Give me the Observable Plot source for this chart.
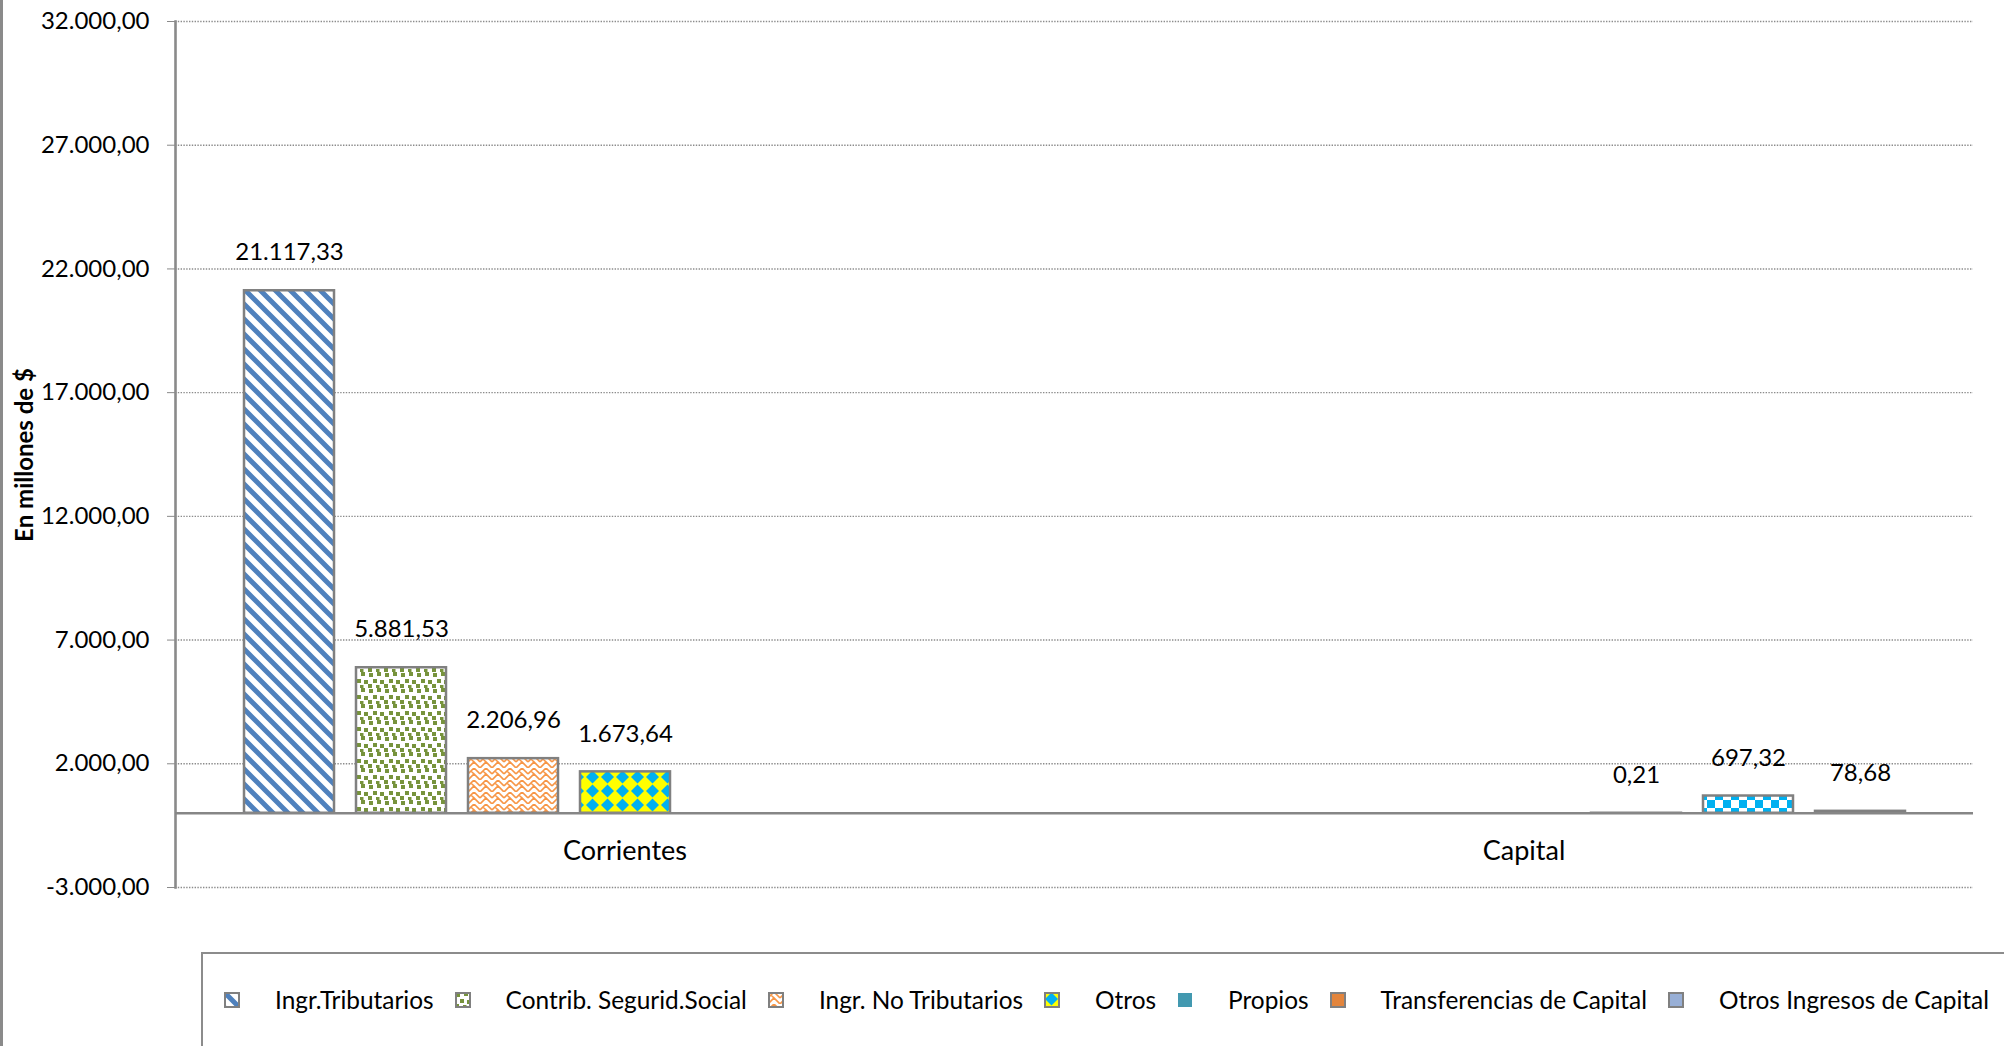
<!DOCTYPE html>
<html><head><meta charset="utf-8">
<script src="https://cdn.jsdelivr.net/npm/d3@7"></script>
<script src="https://cdn.jsdelivr.net/npm/@observablehq/plot@0.6"></script>
<style>
html,body{margin:0;padding:0;background:#fff;}
#wrap{position:relative;width:2004px;height:1046px;overflow:hidden;font-family:Lato,"Open Sans",sans-serif;color:#000;}
#chart svg text{fill:#000;}
#leftborder{position:absolute;left:0;top:0;width:3px;height:1046px;background:#8a8a8a;}
#ytitle{position:absolute;left:23px;top:455px;transform:translate(-50%,-50%) rotate(-90deg);font-weight:bold;font-size:24px;white-space:nowrap;}
#legend{position:absolute;left:201px;top:952px;width:1900px;height:200px;border-top:2px solid #8c8c8c;border-left:2px solid #8c8c8c;box-sizing:border-box;}
#legend .items{position:absolute;left:21px;top:31px;display:flex;align-items:center;font-size:24.4px;white-space:nowrap;}
#legend .item{display:flex;align-items:center;margin-right:21px;}
#legend .sw{width:16px;height:16px;margin-right:35px;display:block;}
#defs{position:absolute;width:0;height:0;}
</style></head>
<body>
<div id="wrap">
  <svg id="defs" width="0" height="0"><defs>
    <pattern id="p-trib" patternUnits="userSpaceOnUse" width="15" height="15">
      <rect width="15" height="15" fill="#fff"/>
      <path d="M-2,-2L17,17M-2,13L2,17M13,-2L17,2" stroke="#4F81BD" stroke-width="5"/>
    </pattern>
    <pattern id="p-ss" patternUnits="userSpaceOnUse" width="16" height="16">
      <rect width="16" height="16" fill="#fff"/>
      <g fill="#77933C">
        <rect x="1" y="1" width="4" height="4"/><rect x="9" y="0" width="4" height="4"/>
        <rect x="5" y="7" width="4" height="4"/><rect x="12" y="8" width="4" height="4"/>
        <rect x="0" y="12" width="4" height="4"/><rect x="8" y="13" width="3.5" height="3"/>
      </g>
    </pattern>
    <pattern id="p-nt" patternUnits="userSpaceOnUse" width="12" height="12">
      <rect width="12" height="12" fill="#fff"/>
      <path d="M0,6L6,0L12,6M0,12L6,6L12,12M3,3L6,6M9,9L12,12" stroke="#F79646" stroke-width="1.6" fill="none"/>
    </pattern>
    <pattern id="p-otros" patternUnits="userSpaceOnUse" width="15" height="14">
      <rect width="15" height="14" fill="#FFFF00"/>
      <polygon points="7.5,0.5 14,7 7.5,13.5 1,7" fill="#00B0F0"/>
    </pattern>
    <pattern id="p-transf" patternUnits="userSpaceOnUse" width="16" height="16">
      <rect width="16" height="16" fill="#00B0F0"/>
      <rect x="0" y="0" width="8" height="8" fill="#fff"/>
      <rect x="8" y="8" width="8" height="8" fill="#fff"/>
    </pattern>
  </defs></svg>
  <div id="leftborder"></div>
  <div id="chart"></div>
  <div id="ytitle">En millones de $</div>
  <div id="legend"><div class="items"></div></div>
</div>
<script>
// ---- data ----
const categories = ["Corrientes", "Capital"];
const series = ["Ingr.Tributarios", "Contrib. Segurid.Social", "Ingr. No Tributarios", "Otros", "Propios", "Transferencias de Capital", "Otros Ingresos de Capital"];
const valuesCorrientes = [21117.33, 5881.53, 2206.96, 1673.64, null, null, null];
const valuesCapital = [null, null, null, null, 0.21, 697.32, 78.68];
const yTicks = [-3000, 2000, 7000, 12000, 17000, 22000, 27000, 32000];

// ---- styles ----
const barFills = ["url(#p-trib)", "url(#p-ss)", "url(#p-nt)", "url(#p-otros)", "#4BACC6", "url(#p-transf)", "#95B3D7"];
const legendFills = ["url(#p-trib)", "url(#p-ss)", "url(#p-nt)", "url(#p-otros)", "#4299B0", "#E3853C", "#98AFD6"];

const locale = d3.formatLocale({decimal: ",", thousands: ".", grouping: [3], currency: ["$", ""], minus: "-"});
const fmt = locale.format(",.2f");

const rows = [];
[valuesCorrientes, valuesCapital].forEach((vals, ci) => {
  vals.forEach((v, si) => { if (v != null) rows.push({category: categories[ci], series: series[si], value: v}); });
});

const chart = Plot.plot({
  width: 2004,
  height: 952,
  marginLeft: 175,
  marginRight: 31,
  marginTop: 21,
  marginBottom: 65,
  style: {fontFamily: "Lato, 'Open Sans', sans-serif", fontSize: "24px", color: "#8a8a8a", background: "transparent"},
  facet: {data: rows, x: "category"},
  fx: {domain: categories, padding: 0, axis: null},
  x: {domain: series, paddingInner: 0.2, paddingOuter: 0.6, axis: null},
  y: {domain: [-3000, 32000], ticks: yTicks, tickFormat: fmt, tickSize: 8, tickPadding: 18, label: null, line: true},
  color: {domain: series, range: barFills},
  marks: [
    Plot.ruleY(yTicks, {stroke: "#8c8c8c", strokeWidth: 1.4, strokeDasharray: "1.4,1.4"}),
    Plot.barY(rows, {x: "series", y: "value", fill: "series", stroke: "#808080", strokeWidth: 2.5}),
    Plot.ruleY([0], {stroke: "#868686", strokeWidth: 2.5}),
    Plot.text(rows, {x: "series", y: "value", text: d => fmt(d.value), dy: -38, fontSize: 24}),
    Plot.text(rows, Plot.selectFirst({y: 0, text: "category", dy: 38, fontSize: 27}))
  ]
});
document.getElementById("chart").appendChild(chart);
// thicken the y axis line (any tall vertical line/path drawn by the axis)
d3.select(chart).selectAll("line, path").each(function() {
  if (this.closest("pattern")) return;
  const b = this.getBBox();
  if (b.width < 10 && b.height > 600) d3.select(this).attr("stroke-width", 2.6).attr("stroke", "#8a8a8a");
});

// ---- legend ----
const items = d3.select("#legend .items");
series.forEach((s, i) => {
  const it = items.append("div").attr("class", "item");
  const sw = it.append("svg").attr("class", "sw").attr("width", 16).attr("height", 16);
  sw.append("rect").attr("x", 1).attr("y", 1).attr("width", 14).attr("height", 14)
    .attr("fill", legendFills[i]).attr("stroke", i === 4 ? "none" : "#808080").attr("stroke-width", 2);
  it.append("span").text(s);
});
</script>
</body></html>
